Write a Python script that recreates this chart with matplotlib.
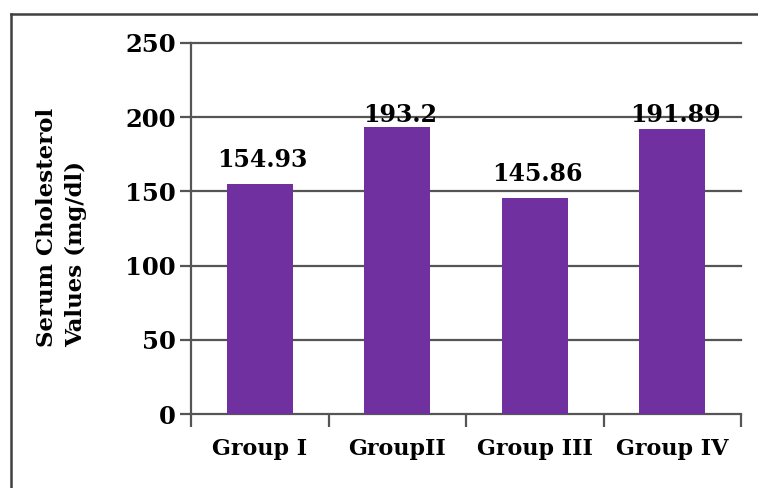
import numpy as np
import matplotlib
matplotlib.use('Agg')
import matplotlib.pyplot as plt
from matplotlib.lines import Line2D

#------ Datos -------
grupos   = ['Group I', 'GroupII', 'Group III', 'Group IV']
valores  = [154.93, 193.2, 145.86, 191.89]
etiquetas = ['154.93', '193.2', '145.86', '191.89']
y_ticks  = [0, 50, 100, 150, 200, 250]

color_barra = '#7030A0'
color_linea = '#555555'
fuente = 'DejaVu Serif'

#------ Figura -------
fig = plt.figure(figsize=(7.58, 4.88), dpi=100)
ax = fig.add_axes([0.252, 0.1516, 0.7256, 0.7603])

x = np.arange(len(grupos))
ax.bar(x, valores, width=0.48, color=color_barra, zorder=3)

ax.set_xlim(-0.5, len(grupos) - 0.5)
ax.set_ylim(0, 250)

# grilla horizontal
for yt in y_ticks[1:]:
    ax.axhline(yt, color=color_linea, lw=1.6, zorder=1, clip_on=False)

ax.set_yticks(y_ticks)
ax.set_yticklabels([str(t) for t in y_ticks], fontfamily=fuente,
                   fontweight='bold', fontsize=17.5)
ax.tick_params(axis='y', length=8, width=1.6, color=color_linea, pad=3)

# categorias en el centro, marcas en los limites
ax.set_xticks(x)
ax.set_xticklabels(grupos, fontfamily=fuente, fontweight='bold', fontsize=16)
ax.tick_params(axis='x', which='major', length=0, pad=17)
ax.set_xticks(np.arange(-0.5, len(grupos), 1), minor=True)
ax.tick_params(axis='x', which='minor', length=9, width=1.6, color=color_linea)

for s in ['top', 'right']:
    ax.spines[s].set_visible(False)
for s in ['left', 'bottom']:
    ax.spines[s].set_color(color_linea)
    ax.spines[s].set_linewidth(1.6)

# etiquetas de datos
for xi, v, txt in zip(x, valores, etiquetas):
    ax.text(xi + 0.02, min(v + 8, 193.5), txt, ha='center', va='bottom',
            fontfamily=fuente, fontweight='bold', fontsize=17, zorder=4)

fig.text(0.081, 1 - 347/488, 'Serum Cholesterol\nValues (mg/dl)', rotation=90,
         ha='center', va='bottom', multialignment='left', fontfamily=fuente,
         fontweight='bold', fontsize=16.5, linespacing=1.45)

# marco exterior
fig.add_artist(Line2D([11/758, 11/758], [0, 1 - 14/488], transform=fig.transFigure,
                      color='#404040', lw=1.8))
fig.add_artist(Line2D([11/758, 1], [1 - 14/488, 1 - 14/488], transform=fig.transFigure,
                      color='#404040', lw=1.8))

fig.savefig('out.png', dpi=100)
